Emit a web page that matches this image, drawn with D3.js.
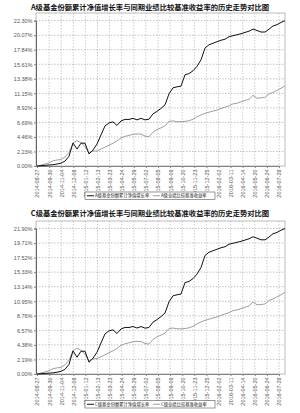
<!DOCTYPE html>
<html>
<head>
<meta charset="utf-8">
<script src="https://cdn.jsdelivr.net/npm/d3@7"></script>
<style>
  body { margin: 0; background: #fff; }
  svg { display: block; }
  .title { font-family: "Noto Sans CJK SC"; font-weight: bold; font-size: 7.3px; fill: #111; }
  .tick text { font-family: "Liberation Sans", Arial, sans-serif; font-size: 5.5px; fill: #555; }
  .legend text { font-family: "Noto Sans CJK SC"; font-size: 4.3px; fill: #222; }
</style>
</head>
<body>
<svg width="300" height="413"></svg>
<script>
// x axis dates (every 3rd sample roughly)
var dates = ["2014-08-27","2014-09-30","2014-11-04","2014-12-08","2015-01-12","2015-02-13",
  "2015-03-23","2015-04-24","2015-05-29","2015-07-02","2015-08-05","2015-09-09","2015-10-20",
  "2015-11-23","2015-12-25","2016-02-02","2016-03-11","2016-04-14","2016-05-20","2016-06-24","2016-07-28"];

// A class cumulative NAV growth (%)
var navA = [0.00,0.05,0.10,0.15,0.20,0.30,0.45,0.75,1.50,3.54,2.60,3.50,3.50,1.85,2.46,3.38,4.77,6.15,6.61,6.77,
  6.23,6.92,7.15,7.15,7.31,7.08,7.31,7.08,7.18,8.00,8.38,8.84,9.38,11.07,12.00,12.15,12.26,14.00,14.18,14.61,
  15.30,16.30,18.10,18.61,18.84,19.07,19.30,19.46,19.84,20.00,20.15,20.30,20.50,20.69,21.01,20.80,20.56,20.56,21.00,21.49,
  21.69,22.04,22.30];

// C class cumulative NAV growth (%)
var navC = [0.00,0.05,0.09,0.13,0.17,0.27,0.41,0.70,1.45,3.48,2.53,3.43,3.42,1.77,2.37,3.28,4.67,6.04,6.49,6.65,
  6.10,6.78,7.01,7.00,7.15,6.92,7.14,6.90,7.00,7.81,8.19,8.64,9.17,10.86,11.78,11.92,12.03,13.76,13.93,14.36,
  15.04,16.03,17.83,18.33,18.55,18.78,19.00,19.15,19.53,19.68,19.82,19.97,20.16,20.35,20.66,20.44,20.20,20.19,20.62,21.11,
  21.30,21.64,21.90];

// benchmark return (%), same for both classes
var bench = [0.00,0.15,0.30,0.50,0.80,0.92,1.00,1.38,2.10,3.50,3.90,3.57,2.97,2.00,2.30,2.30,2.60,2.90,3.20,3.50,
  3.85,4.30,4.55,4.70,4.86,4.92,4.88,4.60,4.50,5.20,5.60,5.85,6.15,6.85,6.92,6.80,6.80,6.85,6.95,7.18,
  7.54,7.85,8.08,8.26,8.43,8.58,8.84,9.04,9.23,9.54,9.64,9.84,10.07,10.23,10.84,10.41,10.46,10.54,11.07,11.30,
  11.60,11.92,12.30];

var ticksA = [0, 2.23, 4.46, 6.69, 8.92, 11.15, 13.38, 15.61, 17.84, 20.07, 22.30];
var ticksC = [0, 2.19, 4.38, 6.57, 8.76, 10.95, 13.14, 15.33, 17.52, 19.71, 21.90];

var svg = d3.select("svg");

drawChart({
  title: "A级基金份额累计净值增长率与同期业绩比较基准收益率的历史走势对比图",
  nav: navA, ticks: ticksA,
  names: ["A级基金份额累计净值增长率", "A级业绩比较基准收益率"],
  titleY: 9.5, frameTop: 13, top: 20.7, bottom: 166, legendY: 192
});
drawChart({
  title: "C级基金份额累计净值增长率与同期业绩比较基准收益率的历史走势对比图",
  nav: navC, ticks: ticksC,
  names: ["C级基金份额累计净值增长率", "C级业绩比较基准收益率"],
  titleY: 216, frameTop: 221, top: 228.5, bottom: 374, legendY: 400.5
});

function drawChart(c) {
  var left = 37, right = 285;
  var g = svg.append("g");

  var x = d3.scaleLinear().domain([0, c.nav.length - 1]).range([left, right]);
  var xl = d3.scalePoint().domain(dates).range([left, 279]);
  var y = d3.scaleLinear().domain([0, c.ticks[c.ticks.length - 1]]).range([c.bottom, c.top]);

  g.append("text").attr("class", "title")
      .attr("x", 150).attr("y", c.titleY)
      .attr("text-anchor", "middle")
      .text(c.title);

  // frame
  g.append("rect")
      .attr("x", 36).attr("y", c.frameTop)
      .attr("width", right - 36).attr("height", c.bottom - c.frameTop)
      .attr("fill", "none").attr("stroke", "#aaa").attr("stroke-width", 0.8);

  // grid
  g.append("g").selectAll("line")
      .data(c.ticks.slice(1))
      .enter().append("line")
      .attr("x1", 36).attr("x2", right)
      .attr("y1", function(d) { return y(d); })
      .attr("y2", function(d) { return y(d); })
      .attr("stroke", "#999").attr("stroke-width", 0.6)
      .attr("stroke-dasharray", "1.5,1.5");

  g.append("g").selectAll("line")
      .data(dates.slice(1))
      .enter().append("line")
      .attr("x1", function(d) { return xl(d); })
      .attr("x2", function(d) { return xl(d); })
      .attr("y1", c.frameTop).attr("y2", c.bottom)
      .attr("stroke", "#aaa").attr("stroke-width", 0.6)
      .attr("stroke-dasharray", "1.5,1.5");

  // y axis
  var yAxis = d3.axisLeft(y).tickValues(c.ticks).tickSize(2)
      .tickFormat(function(d) { return d.toFixed(2) + "%"; });
  var ya = g.append("g").attr("transform", "translate(36,0)").call(yAxis);
  ya.select(".domain").attr("stroke", "#666").attr("stroke-width", 1);
  ya.selectAll(".tick line").attr("stroke", "#888");
  ya.selectAll(".tick text").attr("x", -3.5);

  // x axis
  var xAxis = d3.axisBottom(xl).tickSize(2);
  var xa = g.append("g").attr("transform", "translate(0," + c.bottom + ")").call(xAxis);
  xa.select(".domain").attr("stroke", "#666").attr("stroke-width", 0.8);
  xa.selectAll(".tick line").attr("stroke", "#888");
  xa.selectAll(".tick text")
      .attr("transform", "rotate(-90)")
      .attr("x", -3.5).attr("y", 0).attr("dy", "0.35em")
      .attr("text-anchor", "end");

  var line = d3.line()
      .x(function(d, i) { return x(i); })
      .y(function(d) { return y(d); });

  g.append("path").datum(bench)
      .attr("d", line)
      .attr("fill", "none").attr("stroke", "#888").attr("stroke-width", 0.8);

  g.append("path").datum(c.nav)
      .attr("d", line)
      .attr("fill", "none").attr("stroke", "#111").attr("stroke-width", 1.0);

  // legend
  var lg = g.append("g").attr("class", "legend");
  lg.append("rect")
      .attr("x", 85).attr("y", c.legendY)
      .attr("width", 130).attr("height", 7.5)
      .attr("fill", "#fff").attr("stroke", "#555").attr("stroke-width", 0.6);
  var items = [{ name: c.names[0], color: "#111", w: 1.0, x: 87 },
               { name: c.names[1], color: "#888", w: 0.8, x: 153 }];
  items.forEach(function(it) {
    lg.append("line")
        .attr("x1", it.x).attr("x2", it.x + 7)
        .attr("y1", c.legendY + 3.75).attr("y2", c.legendY + 3.75)
        .attr("stroke", it.color).attr("stroke-width", it.w);
    lg.append("text")
        .attr("x", it.x + 8).attr("y", c.legendY + 5.3)
        .text(it.name);
  });
}
</script>
</body>
</html>
